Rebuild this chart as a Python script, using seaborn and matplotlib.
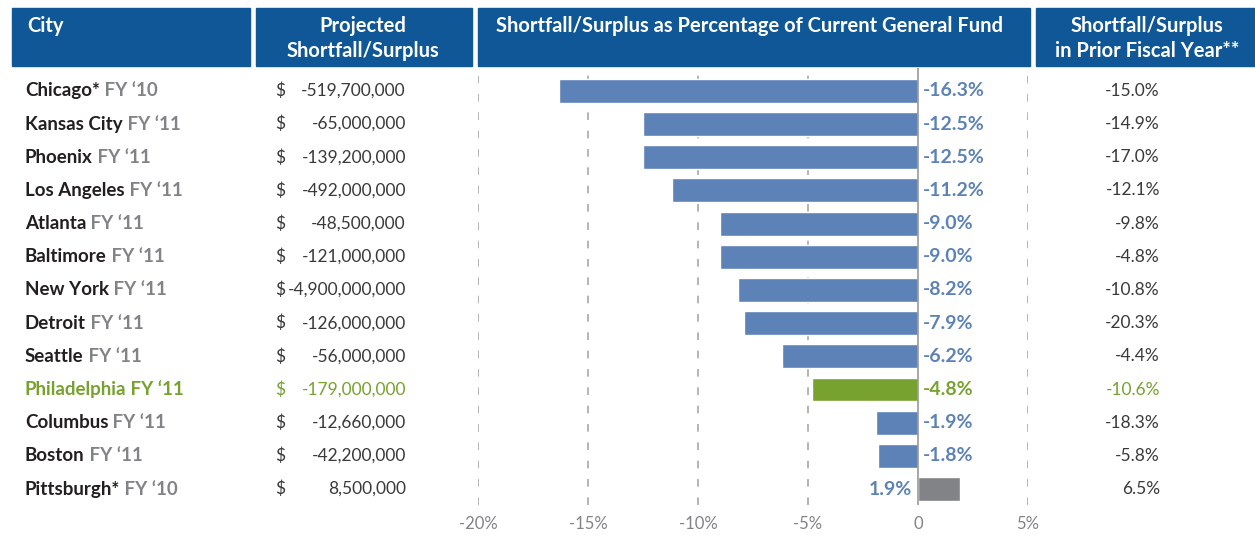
#Budget shortfall / surplus comparison chart

#Import the libraries
import matplotlib
matplotlib.use('Agg')
import matplotlib.pyplot as plt
import matplotlib.transforms as mtransforms
from matplotlib.patches import Rectangle
import pandas as pd
import seaborn as sns

# The data
cities = ['Chicago*', 'Kansas City', 'Phoenix', 'Los Angeles', 'Atlanta', 'Baltimore',
          'New York', 'Detroit', 'Seattle', 'Philadelphia', 'Columbus', 'Boston', 'Pittsburgh*']
fiscal_years = ['FY \u201810', 'FY \u201811', 'FY \u201811', 'FY \u201811', 'FY \u201811', 'FY \u201811',
                'FY \u201811', 'FY \u201811', 'FY \u201811', 'FY \u201811', 'FY \u201811', 'FY \u201811', 'FY \u201810']
shortfall = [-519700000, -65000000, -139200000, -492000000, -48500000, -121000000,
             -4900000000, -126000000, -56000000, -179000000, -12660000, -42200000, 8500000]
pct_general_fund = [-16.3, -12.5, -12.5, -11.2, -9.0, -9.0, -8.2, -7.9, -6.2, -4.8, -1.9, -1.8, 1.9]
prior_year = [-15.0, -14.9, -17.0, -12.1, -9.8, -4.8, -10.8, -20.3, -4.4, -10.6, -18.3, -5.8, 6.5]
x_ticks = [-20, -15, -10, -5, 0, 5]
x_tick_labels = ['-20%', '-15%', '-10%', '-5%', '0', '5%']
highlight = 'Philadelphia'

# Colours
header_blue = '#0f5796'
bar_blue = '#5d82b7'
green = '#78a22f'
grey = '#818386'
dark = '#231f20'
txt_grey = '#3a3a3a'

sns.set_style('white')
plt.rcParams['font.family'] = ['Lato', 'DejaVu Sans']

df = pd.DataFrame({'city': cities, 'pct': pct_general_fund})
palette = []
for c, v in zip(cities, pct_general_fund):
    if c == highlight:
        palette.append(green)
    elif v > 0:
        palette.append(grey)
    else:
        palette.append(bar_blue)

W, H = 1255, 546
fig = plt.figure(figsize=(W / 100, H / 100), dpi=100)
ax = fig.add_axes([478 / W, 1 - 505 / H, 550 / W, 437 / H])

sns.barplot(data=df, x='pct', y='city', hue='city', palette=palette, legend=False,
            orient='h', width=0.72, saturation=1, ax=ax, zorder=3)

ax.set_xlim(-20, 5)
ax.set_ylim(12.48, -0.69)
for s in ax.spines.values():
    s.set_visible(False)
ax.set_xlabel('')
ax.set_ylabel('')
ax.set_yticks([])
ax.set_xticks(x_ticks)
ax.set_xticklabels(x_tick_labels, color=grey, fontsize=12)
ax.tick_params(axis='x', length=0, pad=8)

# grid lines
for t in x_ticks:
    if t == 0:
        ax.axvline(0, color='#9a9a9a', lw=1.2, zorder=4)
    else:
        ax.axvline(t, color='#a0a0a0', lw=1.1, dashes=(5, 7), zorder=1)

# value labels next to the bars
for i, (c, v) in enumerate(zip(cities, pct_general_fund)):
    col = green if c == highlight else bar_blue
    if v < 0:
        ax.text(0.2, i, f'{v:.1f}%', color=col, fontsize=14, fontweight='bold',
                ha='left', va='center')
    else:
        ax.text(-0.25, i, f'{v:.1f}%', color=col, fontsize=14, fontweight='bold',
                ha='right', va='center')

# table columns (figure x, data y)
trans = mtransforms.blended_transform_factory(fig.transFigure, ax.transData)
for i, c in enumerate(cities):
    is_hl = c == highlight
    c1 = green if is_hl else dark
    c2 = green if is_hl else grey
    c3 = green if is_hl else txt_grey
    t = ax.text(25 / W, i, c, transform=trans, color=c1, fontsize=13.5,
                fontweight='bold', ha='left', va='center')
    ax.annotate(' ' + fiscal_years[i], xy=(1, 0.5), xycoords=t, color=c2, fontsize=13.5,
                fontweight='bold', ha='left', va='center')
    ax.text(275 / W, i, '$', transform=trans, color=c3, fontsize=12.5, ha='left', va='center')
    ax.text(406 / W, i, f'{shortfall[i]:,}', transform=trans, color=c3, fontsize=12.5,
            ha='right', va='center')
    ax.text(1160 / W, i, f'{prior_year[i]:.1f}%', transform=trans, color=c3, fontsize=12.5,
            ha='right', va='center')

# header boxes
boxes = [(12, 250), (256, 472), (478, 1030), (1036, 1255)]
for x0, x1 in boxes:
    fig.patches.append(Rectangle((x0 / W, 1 - 66 / H), (x1 - x0) / W, 58 / H,
                                 transform=fig.transFigure, color=header_blue, zorder=0))

hdr = dict(color='white', fontsize=14.5, fontweight='bold')
fig.text(27 / W, 1 - 26 / H, 'City', ha='left', va='center', **hdr)
fig.text(363 / W, 1 - 38.5 / H, 'Projected\nShortfall/Surplus', ha='center', va='center',
         linespacing=1.32, **hdr)
fig.text(750 / W, 1 - 26 / H, 'Shortfall/Surplus as Percentage of Current General Fund',
         ha='center', va='center', **hdr)
fig.text(1147 / W, 1 - 38.5 / H, 'Shortfall/Surplus\nin Prior Fiscal Year**', ha='center',
         va='center', linespacing=1.32, **hdr)

plt.savefig('out.png', dpi=100)
